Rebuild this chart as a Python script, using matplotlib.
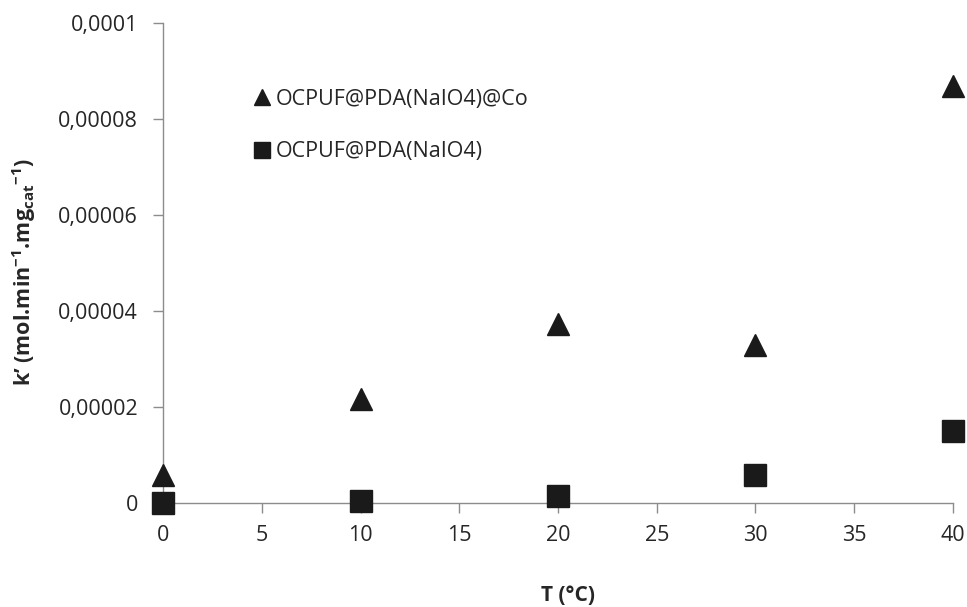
import matplotlib
matplotlib.use("Agg")
import matplotlib.pyplot as plt

temps = [0, 10, 20, 30, 40]
k_co = [5.9e-6, 2.16e-5, 3.72e-5, 3.30e-5, 8.68e-5]
k_plain = [0.0, 0.5e-6, 1.46e-6, 5.9e-6, 1.50e-5]
label_co = "OCPUF@PDA(NaIO4)@Co"
label_plain = "OCPUF@PDA(NaIO4)"
xticks = [0, 5, 10, 15, 20, 25, 30, 35, 40]
yticks = [0, 0.00002, 0.00004, 0.00006, 0.00008, 0.0001]
ytick_labels = ["0", "0,00002", "0,00004", "0,00006", "0,00008", "0,0001"]

plt.rcParams['font.family'] = ['Open Sans', 'DejaVu Sans']
plt.rcParams['mathtext.fontset'] = 'custom'
plt.rcParams['mathtext.rm'] = 'Open Sans'
plt.rcParams['mathtext.bf'] = 'Open Sans:bold'
plt.rcParams['mathtext.default'] = 'bf'

fig = plt.figure(figsize=(9.67, 6.07), dpi=100)
ax = fig.add_axes([0.1686, 0.1713, 0.9855 - 0.1686, 0.962 - 0.1713])

ax.plot(temps, k_co, linestyle='none', marker='^', markersize=16.5,
        color='#1a1a1a', label=label_co, clip_on=False, zorder=3)
ax.plot(temps, k_plain, linestyle='none', marker='s', markersize=16,
        color='#1a1a1a', label=label_plain, clip_on=False, zorder=3)

ax.set_xlim(0, 40)
ax.set_ylim(0, 0.0001)
ax.set_xticks(xticks)
ax.set_yticks(yticks)
ax.set_yticklabels(ytick_labels)

for s in ['top', 'right']:
    ax.spines[s].set_visible(False)
for s in ['left', 'bottom']:
    ax.spines[s].set_color('#8c8c8c')
    ax.spines[s].set_linewidth(1.0)
ax.tick_params(axis='both', colors='#8c8c8c', labelcolor='#262626',
               labelsize=15.5, length=7, width=1.0, direction='out')
ax.tick_params(axis='x', pad=9)
ax.tick_params(axis='y', pad=11)

ax.set_xlabel("T (°C)", fontsize=15, fontweight='bold', color='#262626')
ax.set_ylabel("k’ (mol.min$^{-1}$.mg$_{cat}$$^{-1}$)", fontsize=15.5,
              fontweight='bold', color='#262626')
ax.xaxis.set_label_coords((568 - 163) / 790, (503 - 595) / 480)
ax.yaxis.set_label_coords((24 - 163) / 790, (503 - 272) / 480)
ax.xaxis.label.set_va('center')
ax.yaxis.label.set_va('center')

leg = ax.legend(loc='upper left', bbox_to_anchor=(256 / 967, 1 - 89 / 607),
                bbox_transform=fig.transFigure, frameon=False, fontsize=15.5,
                markerscale=0.72, handlelength=0.55, handletextpad=0.35,
                labelspacing=1.45, borderaxespad=0, borderpad=0)
for t in leg.get_texts():
    t.set_color('#262626')

fig.savefig("out.png", dpi=100)
